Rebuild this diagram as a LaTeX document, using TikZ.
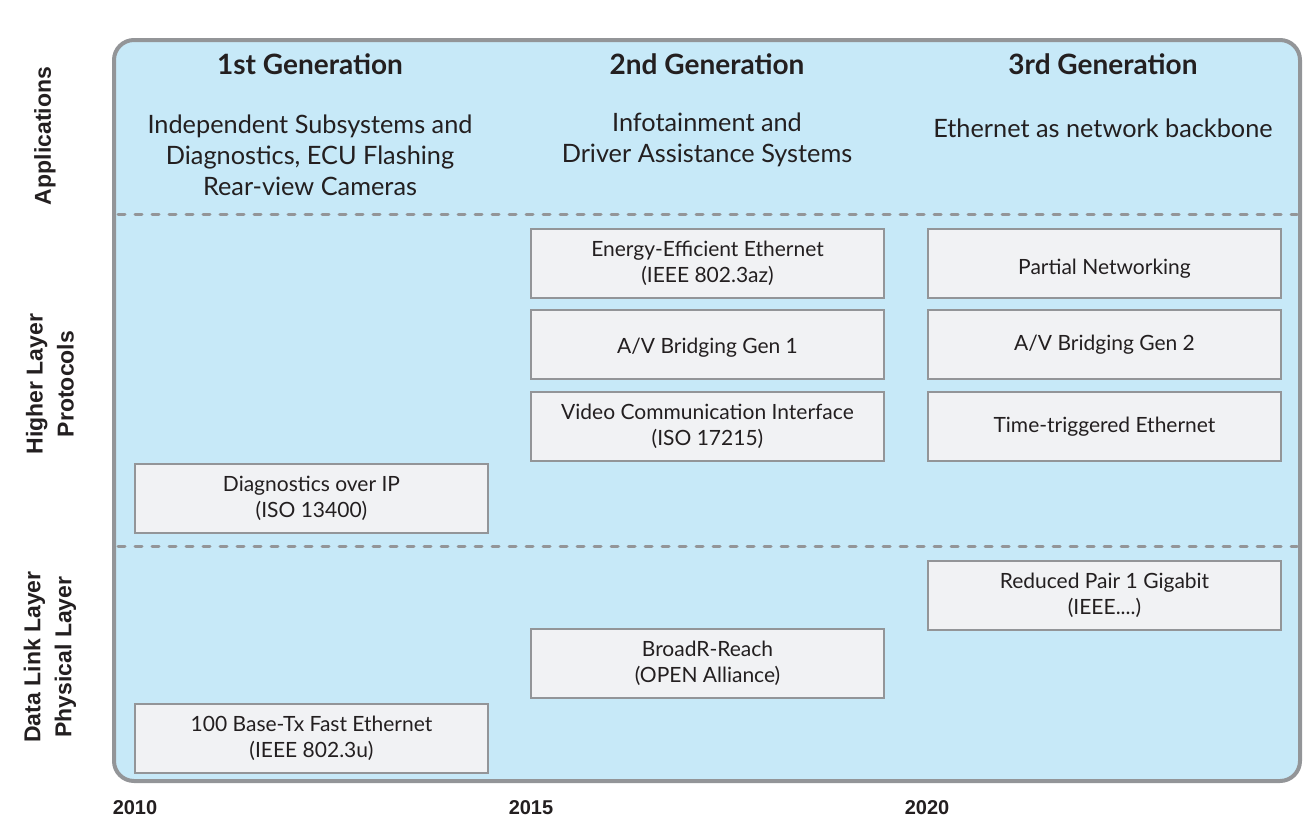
\documentclass[tikz,border=0pt]{standalone}
\usepackage{fontspec}
\setmainfont{Lato}
\newfontfamily\arialfont{Liberation Sans}
\definecolor{panel}{HTML}{C7E9F8}
\definecolor{frame}{HTML}{939598}
\definecolor{boxfill}{HTML}{F1F2F4}
\definecolor{ink}{HTML}{231F20}
\begin{document}
\begin{tikzpicture}[x=1pt,y=-1pt,
  item/.style={draw=frame,line width=2pt,fill=boxfill,minimum width=353pt,minimum height=69pt,
    anchor=north west,inner sep=0pt,align=center,text=ink,font=\fontsize{21}{26}\selectfont},
  gen/.style={text=ink,font=\bfseries\fontsize{28}{32}\selectfont},
  app/.style={text=ink,align=center,font=\fontsize{25.3}{31}\selectfont},
  side/.style={text=ink,rotate=90,align=center,font=\arialfont\bfseries\fontsize{23}{31}\selectfont},
  year/.style={text=ink,font=\arialfont\bfseries\fontsize{20}{24}\selectfont},
  sep/.style={draw=frame,line width=3pt,dash pattern=on 7pt off 10pt,line cap=round}]
\useasboundingbox (0,0) rectangle (1310,836);
\draw[frame,line width=4pt,fill=panel,rounded corners=20pt] (114,40) rectangle (1300,781);
\coordinate (s1l) at (118,214); \coordinate (s1r) at (1297,214);
\coordinate (s2l) at (118,546); \coordinate (s2r) at (1297,546);
\draw[sep] (s1l) -- (s1r);
\draw[sep] (s2l) -- (s2r);
\node[gen] (g1) at (310,64) {1st Generation};
\node[gen] (g2) at (707,64) {2nd Generation};
\node[gen] (g3) at (1103,64) {3rd Generation};
\node[app] (a1) at (310,155) {Independent Subsystems and\\Diagnostics, ECU Flashing\\Rear-view Cameras};
\node[app] (a2) at (707,140) {Infotainment and\\Driver Assistance Systems};
\node[app] (a3) at (1103,128) {Ethernet as network backbone};
\node[side] (l1) at (45,136) {Applications};
\node[side] (l2) at (50,384) {Higher Layer\\Protocols};
\node[side] (l3) at (50,657) {Data Link Layer\\Physical Layer};
\node[item] (b1) at (134,463) {Diagnostics over IP\\(ISO 13400)};
\node[item] (b2) at (134,703) {100 Base-Tx Fast Ethernet\\(IEEE 802.3u)};
\node[item] (b3) at (530,228) {Energy-Efficient Ethernet\\(IEEE 802.3az)};
\node[item] (b4) at (530,309) {\raisebox{-3pt}[\height][\depth]{A/V Bridging Gen 1}};
\node[item] (b5) at (530,391) {Video Communication Interface\\(ISO 17215)};
\node[item] (b6) at (530,628) {BroadR-Reach\\(OPEN Alliance)};
\node[item] (b7) at (927,228) {\raisebox{-5pt}[\height][\depth]{Partial Networking}};
\node[item] (b8) at (927,309) {A/V Bridging Gen 2};
\node[item] (b9) at (927,391) {Time-triggered Ethernet};
\node[item] (b10) at (927,560) {Reduced Pair 1 Gigabit\\(IEEE....)};
\node[year] (y1) at (135,808) {2010};
\node[year] (y2) at (531,808) {2015};
\node[year] (y3) at (927,808) {2020};
\end{tikzpicture}
\end{document}
